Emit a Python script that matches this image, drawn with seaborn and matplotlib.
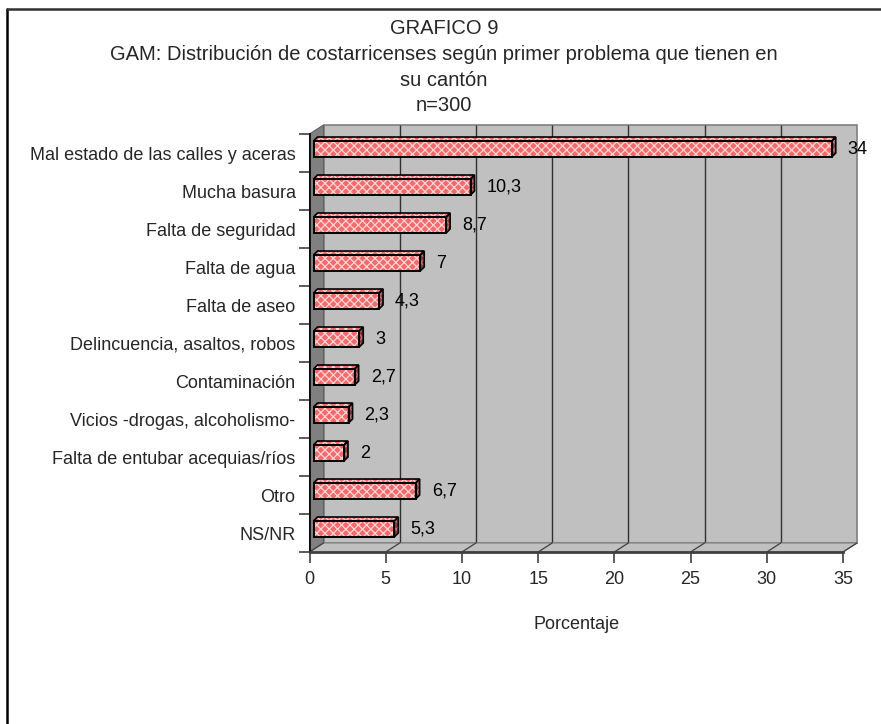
import matplotlib
matplotlib.use("Agg")
import matplotlib.pyplot as plt
import matplotlib.transforms as mtransforms
from matplotlib.patches import Polygon, Rectangle
from matplotlib.lines import Line2D
import numpy as np
import pandas as pd
import seaborn as sns

# data
categories = ["Mal estado de las calles y aceras", "Mucha basura", "Falta de seguridad",
              "Falta de agua", "Falta de aseo", "Delincuencia, asaltos, robos",
              "Contaminación", "Vicios -drogas, alcoholismo-",
              "Falta de entubar acequias/ríos", "Otro", "NS/NR"]
values = [34, 10.3, 8.7, 7, 4.3, 3, 2.7, 2.3, 2, 6.7, 5.3]
value_labels = ["34", "10,3", "8,7", "7", "4,3", "3", "2,7", "2,3", "2", "6,7", "5,3"]
x_ticks = [0, 5, 10, 15, 20, 25, 30, 35]

title_lines = ["GRAFICO 9",
               "GAM: Distribución de costarricenses según primer problema que tienen en",
               "su cantón",
               "n=300"]

WALL = "#c0c0c0"
SIDE_WALL = "#808080"
BAR_FACE = "#f26a6a"
font_size = 13
title_size = 14.5

df = pd.DataFrame({"categoria": categories, "valor": values})

sns.set_style("white")
plt.rcParams["font.family"] = ["Liberation Sans", "DejaVu Sans"]
plt.rcParams["hatch.linewidth"] = 0.9

W, H = 881, 724
fig = plt.figure(figsize=(W / 100, H / 100), dpi=100)
# front plane of the plot area (pixels)
x_left, x_right, y_top, y_bot = 309.5, 843, 134, 552
ax = fig.add_axes([x_left / W, 1 - y_bot / H, (x_right - x_left) / W, (y_bot - y_top) / H])
ax.set_facecolor("none")

sns.barplot(data=df, x="valor", y="categoria", orient="h", ax=ax, width=0.42,
            color=BAR_FACE, saturation=1, zorder=5)

ax.set_xlim(0, 35)
ax.set_ylim(len(categories) - 0.5, -0.5)

# depth offsets in pixels
DX, DY = 14, 9      # wall depth
BX, BY = 4, 4       # bar front position inside depth
bd = 4              # bar depth

back = mtransforms.offset_copy(ax.transData, fig=fig, x=DX, y=DY, units="dots")
bar_tr = mtransforms.offset_copy(ax.transData, fig=fig, x=BX, y=BY, units="dots")
ident = mtransforms.IdentityTransform()

# back wall
y0, y1 = ax.get_ylim()
ax.add_patch(Rectangle((0, y0), 35, y1 - y0, transform=back, facecolor=WALL,
                       edgecolor="#808080", lw=1.2, zorder=0, clip_on=False))
# vertical gridlines on back wall
ax.vlines(x_ticks[1:-1], y0, y1, transform=back, colors="#303030", lw=1.0, zorder=1, clip_on=False)


def disp(x, y):
    return ax.transData.transform((x, y))


# left wall and floor (display coordinates)
fb_l, ft_l = disp(0, y0), disp(0, y1)
fb_r = disp(35, y0)
left_wall = [fb_l, ft_l, ft_l + [DX, DY], fb_l + [DX, DY]]
ax.add_patch(Polygon(left_wall, closed=True, transform=ident, facecolor=SIDE_WALL,
                     edgecolor="#606060", lw=0.8, zorder=1, clip_on=False))
floor = [fb_l, fb_r, fb_r + [DX, DY], fb_l + [DX, DY]]
ax.add_patch(Polygon(floor, closed=True, transform=ident, facecolor=WALL,
                     edgecolor="#808080", lw=0.8, zorder=1, clip_on=False))
for t in x_ticks:
    p = disp(t, y0)
    ax.add_line(Line2D([p[0], p[0] + DX], [p[1], p[1] + DY], transform=ident,
                       color="#404040", lw=0.9, zorder=2, clip_on=False))

# 3D bars
bars = [p for p in ax.patches if isinstance(p, Rectangle) and p.get_zorder() == 5]
for patch in bars:
    patch.set_transform(bar_tr)
    patch.set_hatch("xxxx")
    patch.set_edgecolor("#ffd6d6")
    patch.set_linewidth(0)
    bx, by = patch.get_x(), patch.get_y()
    bw, bh = patch.get_width(), patch.get_height()
    ax.add_patch(Rectangle((bx, by), bw, bh, transform=bar_tr, fill=False,
                           edgecolor="black", lw=1.4, zorder=6))
    tl = bar_tr.transform((bx, by))
    tr_ = bar_tr.transform((bx + bw, by))
    br = bar_tr.transform((bx + bw, by + bh))
    top = [tl, tr_, tr_ + [bd, bd], tl + [bd, bd]]
    side = [tr_, br, br + [bd, bd], tr_ + [bd, bd]]
    ax.add_patch(Polygon(top, closed=True, transform=ident, facecolor=BAR_FACE,
                         edgecolor="#ffd6d6", lw=0, hatch="xxxx", zorder=5))
    ax.add_patch(Polygon(side, closed=True, transform=ident, facecolor="#8a3a3a",
                         edgecolor="#c07a7a", lw=0, hatch="xxxx", zorder=5))
    for face in (top, side):
        ax.add_patch(Polygon(face, closed=True, transform=ident, fill=False,
                             edgecolor="black", lw=1.2, zorder=6))

# value labels
lab_tr = mtransforms.offset_copy(ax.transData, fig=fig, x=20, y=BY, units="dots")
for i, (v, lab) in enumerate(zip(values, value_labels)):
    ax.text(v, i, lab, transform=lab_tr, ha="left", va="center", fontsize=font_size,
            color="black", zorder=7)

# axes styling
for s in ["top", "right"]:
    ax.spines[s].set_visible(False)
ax.spines["left"].set_color("black")
ax.spines["left"].set_linewidth(1.2)
ax.spines["bottom"].set_color("#404040")
ax.spines["bottom"].set_linewidth(2.0)
ax.spines["left"].set_zorder(3)
ax.spines["bottom"].set_zorder(3)

ax.set_xticks(x_ticks)
ax.set_xticklabels([str(t) for t in x_ticks])
ax.tick_params(axis="x", direction="out", length=8, width=1.2, color="#404040",
               labelsize=font_size, pad=6, bottom=True)
ax.set_yticks(range(len(categories)))
ax.set_yticklabels(categories)
ax.tick_params(axis="y", which="major", length=0, labelsize=font_size, pad=10)
ax.set_yticks(np.arange(-0.5, len(categories)), minor=True)
ax.tick_params(axis="y", which="minor", direction="out", length=8, width=1.2,
               color="#404040", left=True)
ax.set_ylabel("")
ax.set_xlabel("Porcentaje", fontsize=font_size, labelpad=20)

# title
for k, line in enumerate(title_lines):
    fig.text(444 / W, 1 - (29 + 25.5 * k) / H, line, ha="center", va="center",
             fontsize=title_size)

# outer frame (left and top visible)
fig.add_artist(Line2D([7 / W, 7 / W], [0, 1 - 9 / H], transform=fig.transFigure,
                      color="black", lw=1.8))
fig.add_artist(Line2D([7 / W, 1], [1 - 9 / H, 1 - 9 / H], transform=fig.transFigure,
                      color="#303030", lw=1.8))

fig.savefig("out.png", dpi=100)
